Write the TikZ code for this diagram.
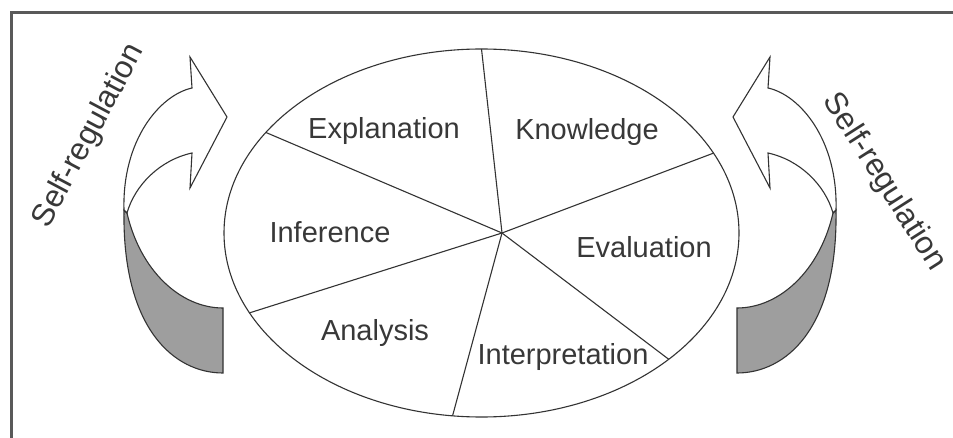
\documentclass[tikz,border=0pt]{standalone}
\usepackage{fontspec}
\setmainfont{Liberation Sans}
\usetikzlibrary{shapes.geometric}
\begin{document}
\begin{tikzpicture}[x=1pt,y=-1pt,
  line/.style={draw=black!80, line width=1.1pt},
  lbl/.style={font=\fontsize{29}{29}\selectfont, text=black!78, inner sep=0pt},
  sr/.style={font=\fontsize{31.5}{31.5}\selectfont, text=black!78, inner sep=0pt},
  ribbon/.style={draw=black!80, line width=1.1pt, fill=white, line join=miter},
  back/.style={draw=black!80, line width=1.1pt, fill=black!38, line join=miter}
]
\useasboundingbox (0,0) rectangle (953,438);
\fill[white] (0,0) rectangle (953,438);
\draw[black!65, line width=3pt] (11,440) -- (11,13) -- (955,13);

% wheel
\node[line, ellipse, minimum width=515pt, minimum height=368pt, inner sep=0pt, outer sep=0pt] (wheel) at (481.5,233) {};
\coordinate (hub) at (502,233);
\foreach \a in {90.8,19.85,-34.4,261.1,199.5,155.9} \draw[line] (hub) -- (wheel.\a);

\node[lbl] (expl) at (384,131) {Explanation};
\node[lbl] (know) at (587,132) {Knowledge};
\node[lbl] (infe) at (330,232) {Inference};
\node[lbl] (eval) at (644,247) {Evaluation};
\node[lbl] (anal) at (375,333) {Analysis};
\node[lbl] (inte) at (563,357) {Interpretation};

% left ribbon arrow
\draw[back] (124,210) .. controls (122,330) and (175,373) .. (223,373)
  -- (223,308) .. controls (180,308) and (140,270) .. (127,213) -- cycle;
\draw[ribbon] (124,210) .. controls (122,140) and (160,95) .. (192,88)
  -- (190,57) -- (227,117) -- (190,188) -- (192,153)
  .. controls (160,160) and (135,185) .. (127,213) -- cycle;

% right ribbon arrow (mirror)
\begin{scope}[shift={(960,0)}, xscale=-1]
\draw[back] (124,210) .. controls (122,330) and (175,373) .. (223,373)
  -- (223,308) .. controls (180,308) and (140,270) .. (127,213) -- cycle;
\draw[ribbon] (124,210) .. controls (122,140) and (160,95) .. (192,88)
  -- (190,57) -- (227,117) -- (190,188) -- (192,153)
  .. controls (160,160) and (135,185) .. (127,213) -- cycle;
\end{scope}

\node[sr, rotate=62] (srl) at (89,136) {Self-regulation};
\node[sr, rotate=-57.5] (srr) at (884,182) {Self-regulation};
\end{tikzpicture}
\end{document}
